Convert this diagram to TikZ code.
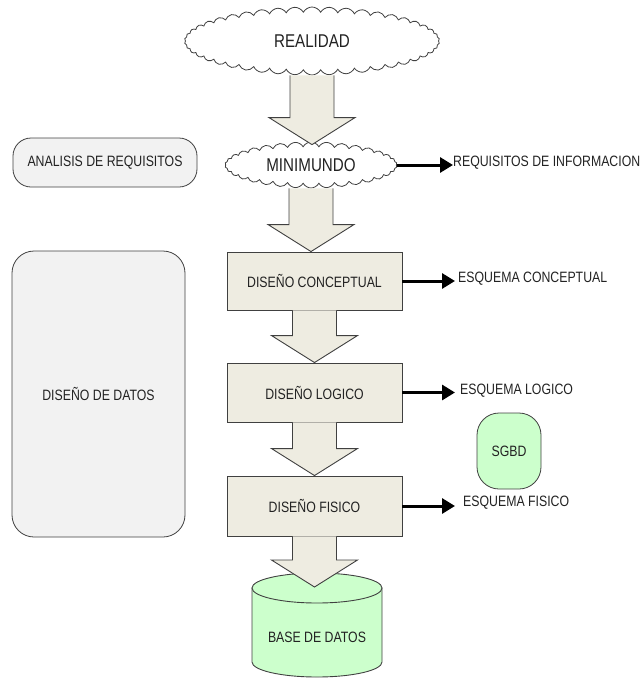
\documentclass[tikz,border=0pt]{standalone}
\usepackage{fontspec}
\setmainfont{Liberation Sans}[FakeStretch=0.82]
\usetikzlibrary{shapes.symbols,calc,arrows.meta}

\definecolor{boxfill}{HTML}{EEECE1}
\definecolor{linegray}{HTML}{404040}
\definecolor{softgray}{HTML}{F2F2F2}
\definecolor{dbgreen}{HTML}{CCFFCC}
\definecolor{inktext}{HTML}{222222}

% wide block arrow from the bottom of one node to the top of the next
% #1 source, #2 target, #3 how far the tip sinks below the target's north anchor
\newcommand\blockarrow[3]{%
  \path let \p1=(#1.south), \p2=(#2.north) in
    [blockarr]
    (\x1-22pt,\y1) -- (\x1-22pt,\y2-#3+27pt) -- (\x1-43pt,\y2-#3+27pt)
    -- (\x1,\y2-#3) -- (\x1+43pt,\y2-#3+27pt) -- (\x1+22pt,\y2-#3+27pt)
    -- (\x1+22pt,\y1);%
}

\tikzset{
  every node/.style={text=inktext, font=\fontsize{15}{18}\selectfont},
  stagebox/.style={draw=linegray, fill=boxfill, line width=0.9pt,
    minimum width=175pt, inner sep=0pt},
  cloudbox/.style={cloud, draw=linegray, fill=white, line width=0.8pt,
    cloud ignores aspect, cloud puff arc=125, inner sep=0pt,
    font=\fontsize{18.5}{20}\selectfont},
  phasebox/.style={draw=linegray, fill=softgray, line width=0.8pt, inner sep=0pt},
  blockarr/.style={draw=linegray, fill=boxfill, line width=0.9pt, line join=miter},
  resultarr/.style={line width=3pt, -{Triangle[length=13pt,width=15pt]}},
  resultlabel/.style={anchor=west, inner sep=0pt},
}

\begin{document}
\begin{tikzpicture}[x=1pt,y=-1pt]
\useasboundingbox (0,0) rectangle (640,686);

% clouds
\node[cloudbox, cloud puffs=46, minimum width=255pt, minimum height=68pt] (real) at (312,41) {REALIDAD};
\node[cloudbox, cloud puffs=34, minimum width=172pt, minimum height=46pt] (mini) at (311,165) {MINIMUNDO};

% phases on the left
\node[phasebox, rounded corners=18pt, minimum width=184pt, minimum height=49pt] (analisis) at (105,162.5) {ANALISIS DE REQUISITOS};
\node[phasebox, rounded corners=22pt, minimum width=173pt, minimum height=286pt] (datos) at (98.5,394) {DISEÑO DE DATOS};

% design stages
\node[stagebox, minimum height=58pt] (concep) at (314.5,281) {DISEÑO CONCEPTUAL};
\node[stagebox, minimum height=59pt] (logico) at (314.5,392.5) {DISEÑO LOGICO};
\node[stagebox, minimum height=60pt] (fisico) at (314.5,506) {DISEÑO FISICO};

% DBMS
\node[draw=linegray, fill=dbgreen, line width=0.8pt, rounded corners=22pt,
      minimum width=64pt, minimum height=76pt, inner sep=0pt] (sgbd) at (509,451) {SGBD};

% database cylinder
\path[draw=linegray, fill=dbgreen, line width=0.9pt]
  (252,588) -- (252,662) arc[start angle=180, end angle=0, x radius=65, y radius=15]
  -- (382,588) -- cycle;
\path[draw=linegray, fill=dbgreen, line width=0.9pt] (317,588) ellipse[x radius=65, y radius=15];
\coordinate (dbtop) at (317,573);
\node (db) at (317,637) {BASE DE DATOS};

% flow between stages
\blockarrow{real}{mini}{3pt}
\blockarrow{mini}{concep}{0pt}
\blockarrow{concep}{logico}{0pt}
\blockarrow{logico}{fisico}{0pt}
\blockarrow{fisico}{dbtop}{14pt}

% products of each stage
\node[resultlabel] (req) at (453,163) {REQUISITOS DE INFORMACION};
\node[resultlabel] (econ) at (458,279) {ESQUEMA CONCEPTUAL};
\node[resultlabel] (elog) at (460,391) {ESQUEMA LOGICO};
\node[resultlabel] (efis) at (463,503) {ESQUEMA FISICO};

\draw[resultarr] (mini.east) -- (mini.east -| req.west);
\draw[resultarr] (concep.east) -- ([xshift=-3pt]concep.east -| econ.west);
\draw[resultarr] (logico.east) -- ([xshift=-5pt]logico.east -| elog.west);
\draw[resultarr] (fisico.east) -- ([xshift=-8pt]fisico.east -| efis.west);
\end{tikzpicture}
\end{document}
